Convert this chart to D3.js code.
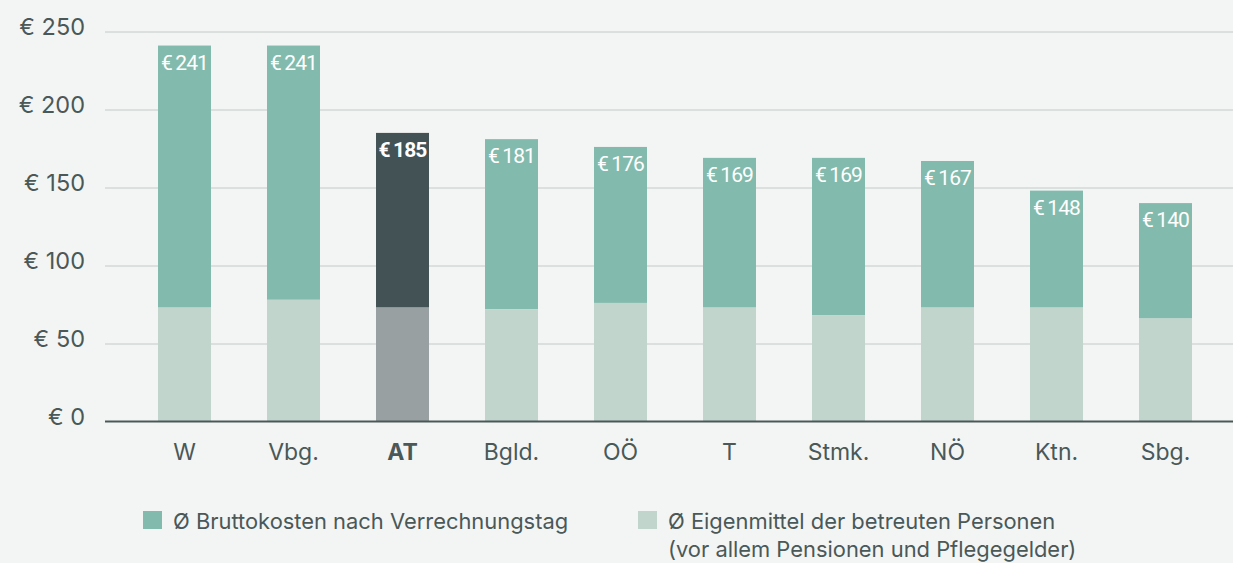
<!DOCTYPE html>
<html>
<head>
<meta charset="utf-8">
<script src="https://cdn.jsdelivr.net/npm/d3@7"></script>
<style>
  html, body { margin: 0; padding: 0; background: #f3f5f4; }
  svg { display: block; }
</style>
</head>
<body>
<div id="chart"></div>
<script>
const regions = ['W', 'Vbg.', 'AT', 'Bgld.', 'OÖ', 'T', 'Stmk.', 'NÖ', 'Ktn.', 'Sbg.']
const brutto = [241, 241, 185, 181, 176, 169, 169, 167, 148, 140]
const eigen = [73, 78, 73, 72, 76, 73, 68, 73, 73, 66]
const yTicks = [0, 50, 100, 150, 200, 250]
const highlight = 'AT'
const legendLabels = [
	['Ø Bruttokosten nach Verrechnungstag'],
	['Ø Eigenmittel der betreuten Personen', '(vor allem Pensionen und Pflegegelder)']
]

const W = 1233, H = 563
const font = 'Inter, Roboto, "Noto Sans", sans-serif'
const textColor = '#4a5858'

const data = regions.map((r, i) => ({ region: r, total: brutto[i], eigen: eigen[i] }))

const svg = d3.select('#chart')
	.append('svg')
	.attr('width', W)
	.attr('height', H)

svg.append('rect')
	.attr('width', W)
	.attr('height', H)
	.attr('fill', '#f3f5f4')

const x = d3.scaleBand()
	.domain(regions)
	.range([130, 1220])
	.paddingInner(0.514)
	.paddingOuter(0.257)

const y = d3.scaleLinear()
	.domain([0, 250])
	.range([421.5, 31.5])

// grid + y labels
const yAxis = d3.axisLeft(y)
	.tickValues(yTicks)
	.tickSize(0)
	.tickPadding(20)
	.tickFormat(d => '€ ' + d)

svg.append('g')
	.attr('transform', 'translate(105,0)')
	.call(yAxis)
	.call(g => g.select('.domain').remove())
	.call(g => g.selectAll('.tick text')
		.attr('font-family', font)
		.attr('font-size', 23.5)
		.attr('fill', textColor)
		.attr('dy', '0.14em'))
	.selectAll('.tick')
	.filter(d => d > 0)
	.append('line')
	.attr('x1', 0)
	.attr('x2', W - 105)
	.attr('stroke', '#d3d8d7')
	.attr('stroke-width', 1.5)

// stacked bars
const bars = svg.append('g')
	.selectAll('g')
	.data(data)
	.join('g')

bars.append('rect')
	.attr('x', d => x(d.region))
	.attr('width', x.bandwidth())
	.attr('y', d => y(d.total))
	.attr('height', d => y(d.eigen) - y(d.total))
	.attr('fill', d => d.region === highlight ? '#435255' : '#82bbad')

bars.append('rect')
	.attr('x', d => x(d.region))
	.attr('width', x.bandwidth())
	.attr('y', d => y(d.eigen))
	.attr('height', d => y(0) - y(d.eigen))
	.attr('fill', d => d.region === highlight ? '#99a0a1' : '#c1d5cc')

bars.append('text')
	.attr('x', d => x(d.region) + x.bandwidth() / 2)
	.attr('y', d => y(d.total) + 24)
	.attr('text-anchor', 'middle')
	.attr('font-family', 'Roboto, sans-serif')
	.attr('font-size', 21)
	.attr('letter-spacing', -0.9)
	.attr('font-weight', d => d.region === highlight ? 'bold' : 'normal')
	.attr('fill', 'white')
	.text(d => '€\u2009' + d.total)

// baseline
svg.append('line')
	.attr('x1', 105)
	.attr('x2', W)
	.attr('y1', y(0))
	.attr('y2', y(0))
	.attr('stroke', '#4a5858')
	.attr('stroke-width', 2)

// x labels
const xAxis = d3.axisBottom(x)
	.tickSize(0)
	.tickPadding(22)

svg.append('g')
	.attr('transform', `translate(0,${y(0)})`)
	.call(xAxis)
	.call(g => g.select('.domain').remove())
	.selectAll('.tick text')
	.attr('font-family', font)
	.attr('font-size', 23)
	.attr('fill', textColor)
	.attr('font-weight', d => d === highlight ? 'bold' : 'normal')

// legend
const legend = svg.append('g')
	.selectAll('g')
	.data(legendLabels)
	.join('g')
	.attr('transform', (d, i) => `translate(${[143, 638][i]},511)`)

legend.append('rect')
	.attr('width', 19)
	.attr('height', 18)
	.attr('fill', (d, i) => ['#82bbad', '#c1d5cc'][i])

legend.append('text')
	.attr('x', 30)
	.attr('y', 18)
	.attr('font-family', font)
	.attr('font-size', 21.9)
	.attr('fill', textColor)
	.selectAll('tspan')
	.data(d => d)
	.join('tspan')
	.attr('x', 30)
	.attr('dy', (d, i) => i === 0 ? 0 : 28)
	.text(d => d)
</script>
</body>
</html>
